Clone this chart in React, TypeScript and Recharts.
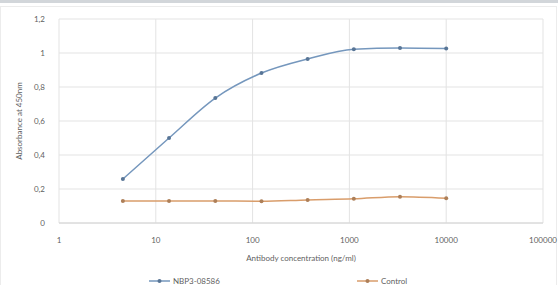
import React from "react";
import {
  LineChart,
  Line,
  XAxis,
  YAxis,
  CartesianGrid,
} from "recharts";

// Curva de titulación estilo Excel: eje X logarítmico, decimales con coma.
const concentrations = [4.57, 13.7, 41.2, 123.5, 370.4, 1111, 3333, 10000];
const nbp3Values = [0.259, 0.5, 0.735, 0.882, 0.965, 1.022, 1.03, 1.027];
const controlValues = [0.129, 0.129, 0.13, 0.128, 0.136, 0.142, 0.155, 0.146];
const xTicks = [1, 10, 100, 1000, 10000, 100000];
const yTicks = [0, 0.2, 0.4, 0.6, 0.8, 1, 1.2];
const seriesNames = ["NBP3-08586", "Control"];

const data = concentrations.map((x, i) => ({
  x,
  nbp3: nbp3Values[i],
  control: controlValues[i],
}));

const FONT = "Lato, 'Open Sans', sans-serif";
const TEXT = "#5f5f5f";
const BLUE = "#7597bd";
const BLUE_DOT = "#587596";
const ORANGE = "#d99d6b";
const ORANGE_DOT = "#ad7f58";

function LegendBox() {
  const item = (name: string, line: string, dot: string, left: number) => (
    <div
      key={name}
      style={{ position: "absolute", left, top: 0, display: "flex", alignItems: "center" }}
    >
      <svg width={22} height={8}>
        <line x1={0} y1={4} x2={21} y2={4} stroke={line} strokeWidth={1.5} />
        <circle cx={10.5} cy={4} r={2} fill={dot} />
      </svg>
      <span style={{ fontFamily: FONT, fontSize: 8, color: TEXT, marginLeft: 2 }}>{name}</span>
    </div>
  );
  return (
    <div style={{ position: "absolute", left: 0, top: 276, height: 10, width: 558 }}>
      {item(seriesNames[0], BLUE, BLUE_DOT, 149)}
      {item(seriesNames[1], ORANGE, ORANGE_DOT, 357)}
    </div>
  );
}

export default function App() {
  const fmt = (v: number) => String(v).replace(".", ",");
  return (
    <div style={{ position: "absolute", left: 0, top: 0, width: 558, height: 285, background: "#fff" }}>
      <div style={{ position: "absolute", left: 0, top: 0, width: 558, height: 3, background: "#d2d6da" }} />
      <div
        style={{
          position: "absolute",
          left: 0,
          top: 6,
          width: 555,
          height: 278,
          border: "1px solid #ececec",
        }}
      />
      <LineChart
        width={558}
        height={285}
        data={data}
        margin={{ top: 19, right: 15, left: 15, bottom: 22 }}
        style={{ position: "absolute", left: 0, top: 0 }}
      >
        <CartesianGrid stroke="#e3e3e3" strokeWidth={1} />
        <XAxis
          dataKey="x"
          type="number"
          scale="log"
          domain={[1, 100000]}
          ticks={xTicks}
          allowDataOverflow
          height={40}
          stroke="#d4d4d4"
          tickLine={false}
          tick={{ fontSize: 8, fill: TEXT, fontFamily: FONT }}
          tickMargin={8}
          label={{
            value: "Antibody concentration (ng/ml)",
            position: "insideBottom",
            offset: 2,
            style: { fontSize: 8, fill: TEXT, fontFamily: FONT },
          }}
        />
        <YAxis
          type="number"
          domain={[0, 1.2]}
          ticks={yTicks}
          width={44}
          axisLine={false}
          tickLine={false}
          tickFormatter={fmt}
          tick={{ fontSize: 8, fill: TEXT, fontFamily: FONT }}
          tickMargin={8}
          label={{
            value: "Absorbance at 450nm",
            angle: -90,
            position: "insideLeft",
            offset: 4,
            style: { fontSize: 8, fill: TEXT, fontFamily: FONT, textAnchor: "middle" },
          }}
        />
        <Line
          dataKey="nbp3"
          name={seriesNames[0]}
          type="monotone"
          stroke={BLUE}
          strokeWidth={1.5}
          dot={{ r: 2, fill: BLUE_DOT, stroke: BLUE_DOT, strokeWidth: 0 }}
          isAnimationActive={false}
        />
        <Line
          dataKey="control"
          name={seriesNames[1]}
          type="monotone"
          stroke={ORANGE}
          strokeWidth={1.5}
          dot={{ r: 2, fill: ORANGE_DOT, stroke: ORANGE_DOT, strokeWidth: 0 }}
          isAnimationActive={false}
        />
      </LineChart>
      <LegendBox />
    </div>
  );
}
